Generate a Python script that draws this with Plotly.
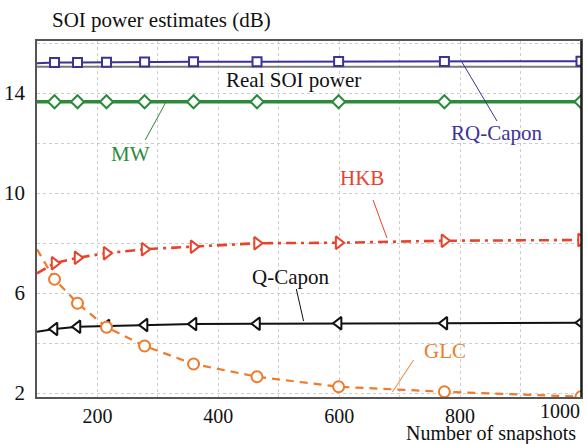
import plotly.graph_objects as go

# ---- data ----
snapshots = [100, 129, 167, 215, 278, 359, 464, 599, 774, 1000]
real_soi_power = 15.05
rq_capon = [15.19, 15.22, 15.22, 15.23, 15.24, 15.25, 15.25, 15.26, 15.26, 15.27]
mw = [13.65, 13.65, 13.65, 13.65, 13.65, 13.65, 13.65, 13.65, 13.65, 13.65]
hkb = [6.79, 7.19, 7.41, 7.59, 7.75, 7.85, 7.99, 8.01, 8.09, 8.12]
q_capon = [4.45, 4.56, 4.65, 4.68, 4.72, 4.76, 4.77, 4.79, 4.79, 4.81]
glc = [7.75, 6.55, 5.59, 4.63, 3.88, 3.16, 2.65, 2.25, 2.05, 1.85]

x_tick_vals = [100, 200, 300, 400, 500, 600, 700, 800, 900, 1000]
x_tick_text = ["", "200", "", "400", "", "600", "", "800", "", ""]
y_tick_vals = [2, 4, 6, 8, 10, 12, 14, 16]
y_tick_text = ["2", "", "6", "", "10", "", "14", ""]

FONT = '"Liberation Serif", "DejaVu Serif", serif'
FS = 21

C_RQ = "#3d3296"
C_MW = "#2b8b3b"
C_HKB = "#e9432b"
C_QC = "#111111"
C_GLC = "#f07a2a"
C_REAL = "#7a7a7a"

fig = go.Figure()

marker_vis = [0] + [1] * (len(snapshots) - 1)

# Real SOI power reference line
fig.add_trace(go.Scatter(x=[snapshots[0], snapshots[-1]], y=[real_soi_power] * 2,
                         mode="lines", line=dict(color=C_REAL, width=2.2),
                         showlegend=False, hoverinfo="skip"))

def add_series(y, color, width, dash, symbol, size):
    fig.add_trace(go.Scatter(
        x=snapshots, y=y, mode="lines+markers",
        line=dict(color=color, width=width, dash=dash),
        marker=dict(symbol=symbol, size=size, color="white",
                    opacity=marker_vis,
                    line=dict(color=color, width=2)),
        showlegend=False, cliponaxis=True))

add_series(rq_capon, C_RQ, 2, "solid", "square", 9)
add_series(mw, C_MW, 3.5, "solid", "diamond", 10)
add_series(hkb, C_HKB, 2.6, "10px,5px,3px,5px", "triangle-right", 11)
add_series(q_capon, C_QC, 2, "solid", "triangle-left", 11)
add_series(glc, C_GLC, 2.2, "8px,6px", "circle", 11)

# series labels and leader lines
labels = [
    ("Real SOI power", 524, 14.52, None, "#111111"),
    ("RQ-Capon", 860, 12.40, ((803, 15.24), (861, 12.88)), C_RQ),
    ("MW", 255, 11.56, ((279, 12.12), (313, 13.62)), C_MW),
    ("HKB", 637, 10.60, ((656, 9.72), (679, 8.20)), C_HKB),
    ("Q-Capon", 520, 6.64, ((529, 6.16), (541, 4.88)), C_QC),
    ("GLC", 775, 3.68, ((723, 3.32), (688, 2.04)), C_GLC),
]
for text, lx, ly, leader, color in labels:
    fig.add_annotation(x=lx, y=ly, xref="x", yref="y", text=text, showarrow=False,
                       font=dict(family=FONT, size=FS, color=color),
                       xanchor="center", yanchor="middle", borderpad=0)
    if leader:
        (x0, y0), (x1, y1) = leader
        fig.add_shape(type="line", x0=x0, y0=y0, x1=x1, y1=y1, xref="x", yref="y",
                      line=dict(color=color, width=1))

# right border in black
fig.add_shape(type="line", xref="paper", yref="paper", x0=1, x1=1, y0=0, y1=1,
              line=dict(color="#111111", width=1.5))

# titles
fig.add_annotation(x=0.026, y=1.0, xref="paper", yref="paper", yshift=21,
                   text="SOI power estimates (dB)", showarrow=False,
                   font=dict(family=FONT, size=FS, color="#111111"),
                   xanchor="left", yanchor="middle", borderpad=0)
fig.add_annotation(x=0.992, y=0, xref="paper", yref="paper", yshift=-36,
                   text="Number of snapshots", showarrow=False,
                   font=dict(family=FONT, size=20, color="#111111"),
                   xanchor="right", yanchor="middle", borderpad=0)
fig.add_annotation(x=1000, y=0, xref="x", yref="paper", yshift=-14,
                   text="1000", showarrow=False,
                   font=dict(family=FONT, size=20, color="#111111"),
                   xanchor="right", yanchor="middle", borderpad=0)

fig.update_layout(
    width=587, height=444,
    margin=dict(l=33, r=4, t=41, b=47),
    paper_bgcolor="white", plot_bgcolor="white",
    font=dict(family=FONT, size=FS, color="#111111"),
    xaxis=dict(range=[100, 1000], tickvals=x_tick_vals, ticktext=x_tick_text,
               tickfont=dict(size=20),
               showgrid=True, gridcolor="#cccccc", griddash="dot", gridwidth=1,
               showline=True, linecolor="#555555", linewidth=1.5, mirror=True,
               ticks="", zeroline=False, ticklabelstandoff=0),
    yaxis=dict(range=[1.84, 16.08], tickvals=y_tick_vals, ticktext=y_tick_text,
               showgrid=True, gridcolor="#cccccc", griddash="dot", gridwidth=1,
               showline=True, linecolor="#555555", linewidth=1.5, mirror=True,
               ticks="", zeroline=False, ticklabelstandoff=6),
)

fig.write_html("out.html")
